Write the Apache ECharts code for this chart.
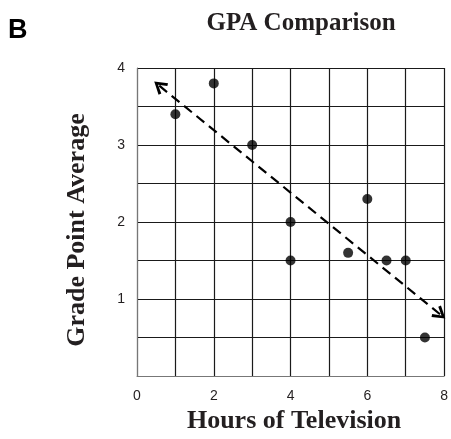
<!DOCTYPE html>
<html>
<head>
<meta charset="utf-8">
<script src="https://cdn.jsdelivr.net/npm/echarts@6/dist/echarts.min.js"></script>
<style>
html, body { margin: 0; padding: 0; background: #fff; }
#main { width: 451px; height: 439px; }
</style>
</head>
<body>
<div id="main"></div>
<script>
// hours of TV vs GPA
var hours = [1, 2, 3, 4, 4, 5.5, 6, 6.5, 7, 7.5];
var gpa = [3.4, 3.8, 3.0, 2.0, 1.5, 1.6, 2.3, 1.5, 1.5, 0.5];
// dashed trend arrow, both ends
var trendX = [0.58, 7.9];
var trendY = [3.77, 0.8];
var xTicks = [0, 2, 4, 6, 8];
var yTicks = [1, 2, 3, 4];

var points = hours.map(function (h, i) { return [h, gpa[i]]; });
var vee = 'path://M5,0 L10,9 L8.2,10 L5,3.8 L1.8,10 L0,9 Z';
var serif = '"Liberation Serif", "Times New Roman", serif';
var sans = '"Liberation Sans", Arial, sans-serif';

var myChart = echarts.init(document.getElementById('main'), null, { renderer: 'canvas' });

var option = {
	animation: false,
	title: {
		text: 'GPA Comparison',
		left: 296,
		top: 6,
		textAlign: 'center',
		textStyle: { fontFamily: serif, fontWeight: 'bold', fontSize: 25, color: '#231f20' }
	},
	graphic: [{
		type: 'text',
		left: 8,
		top: 17,
		style: { text: 'B', font: 'bold 27px ' + sans, fill: '#000' }
	}],
	grid: { left: 137, top: 68, width: 310, height: 310, containLabel: false },
	xAxis: {
		type: 'value',
		min: 0,
		max: 8,
		interval: 1,
		name: 'Hours of Television',
		nameLocation: 'middle',
		nameGap: 31,
		nameTextStyle: { fontFamily: serif, fontWeight: 'bold', fontSize: 26, color: '#231f20', padding: [0, 0, 0, 7] },
		axisLine: { lineStyle: { color: '#777', width: 1 } },
		axisTick: { show: false },
		axisLabel: {
			margin: 13,
			fontFamily: sans,
			fontSize: 14,
			color: '#231f20',
			formatter: function (v) { return xTicks.indexOf(v) >= 0 ? String(v) : ''; }
		},
		splitLine: { show: true, lineStyle: { color: '#1a1a1a', width: 1.2 } }
	},
	yAxis: {
		type: 'value',
		min: 0,
		max: 4,
		interval: 0.5,
		name: 'Grade Point Average',
		nameLocation: 'middle',
		nameGap: 47,
		nameTextStyle: { fontFamily: serif, fontWeight: 'bold', fontSize: 26, color: '#231f20', padding: [0, 16, 0, 0] },
		axisLine: { show: true, lineStyle: { color: '#777', width: 1 } },
		axisTick: { show: false },
		axisLabel: {
			margin: 12,
			fontFamily: sans,
			fontSize: 14,
			color: '#231f20',
			formatter: function (v) { return yTicks.indexOf(v) >= 0 ? String(v) : ''; }
		},
		splitLine: { show: true, lineStyle: { color: '#1a1a1a', width: 1.2 } }
	},
	series: [{
		type: 'scatter',
		data: points,
		symbol: 'circle',
		symbolSize: 10,
		itemStyle: { color: '#000' },
		silent: true,
		markLine: {
			silent: true,
			symbol: [vee, vee],
			symbolSize: [15, 13],
			label: { show: false },
			lineStyle: { color: '#000', width: 2.2, type: [10, 6] },
			data: [[
				{ coord: [trendX[0], trendY[0]] },
				{ coord: [trendX[1], trendY[1]] }
			]]
		}
	}]
};

myChart.setOption(option);
window.onresize = myChart.resize;
</script>
</body>
</html>
